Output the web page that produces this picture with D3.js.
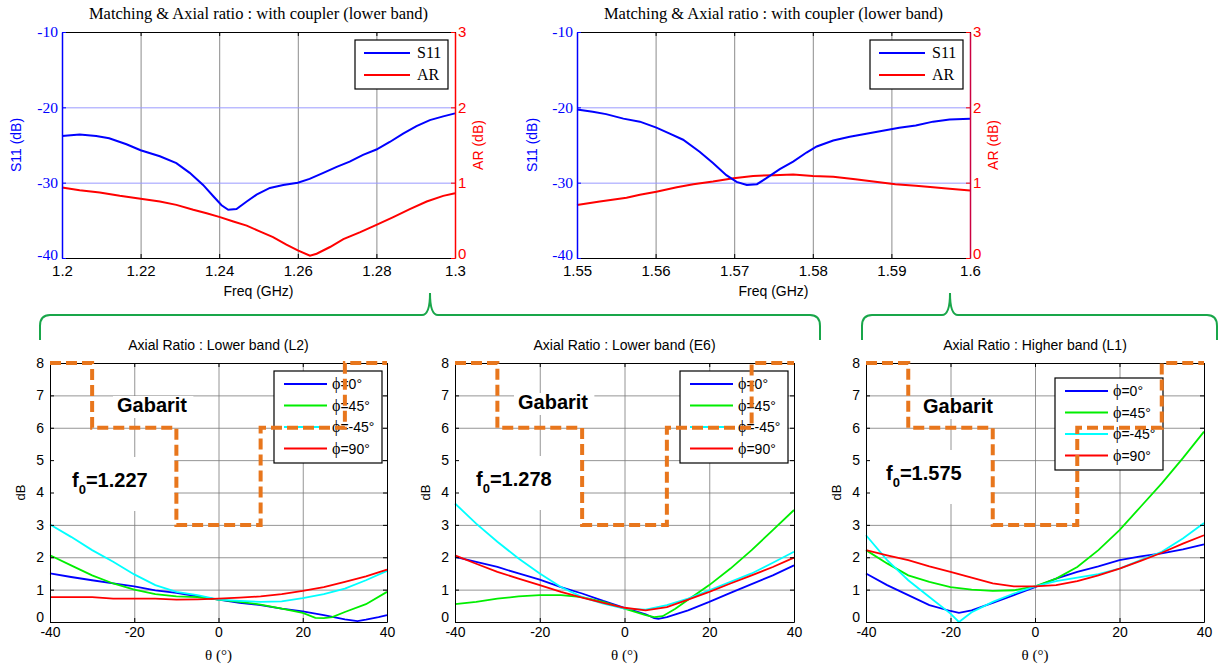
<!DOCTYPE html>
<html><head><meta charset="utf-8">
<script src="https://cdn.jsdelivr.net/npm/d3@7"></script>
<style>body{margin:0;background:#fff}svg{display:block}</style>
</head><body>
<svg id="c" width="1219" height="666"></svg>
<script>
// ---------------- DATA ----------------
const s11Ticks = [-10, -20, -30, -40];
const arTicks = [0, 1, 2, 3];
const lowFreqTicks = [1.2, 1.22, 1.24, 1.26, 1.28, 1.3];
const highFreqTicks = [1.55, 1.56, 1.57, 1.58, 1.59, 1.6];
const topTitle = "Matching & Axial ratio : with coupler (lower band)";
const seriesTopNames = ["S11", "AR"];

const lowS11Freq = [1.2,1.2045,1.2087,1.212,1.2164,1.22,1.2249,1.2291,1.2325,1.2359,1.2385,1.2406,1.2423,1.2444,1.247,1.2495,1.2529,1.2563,1.26,1.263,1.2665,1.2699,1.2732,1.2766,1.28,1.2834,1.2868,1.2902,1.2936,1.297,1.3];
const lowS11 = [-23.8,-23.6,-23.8,-24.1,-24.9,-25.7,-26.5,-27.4,-28.7,-30.3,-31.8,-33.0,-33.6,-33.5,-32.5,-31.6,-30.7,-30.3,-30.0,-29.5,-28.7,-27.9,-27.2,-26.3,-25.6,-24.6,-23.5,-22.5,-21.7,-21.2,-20.8];
const lowARFreq = [1.2,1.2045,1.2096,1.2147,1.22,1.2249,1.2291,1.2334,1.2368,1.2402,1.2436,1.247,1.2503,1.2537,1.2571,1.26,1.2631,1.2648,1.2682,1.2716,1.2759,1.28,1.2843,1.2885,1.2928,1.297,1.3];
const lowAR = [0.935,0.90,0.87,0.825,0.785,0.75,0.705,0.64,0.595,0.543,0.485,0.43,0.353,0.278,0.176,0.10,0.03,0.057,0.146,0.25,0.344,0.44,0.543,0.648,0.75,0.825,0.86];

const highS11Freq = [1.55,1.552,1.5537,1.5559,1.558,1.5601,1.5618,1.5635,1.5656,1.5673,1.569,1.5703,1.5716,1.5729,1.5741,1.5758,1.5775,1.5792,1.5805,1.5826,1.5847,1.5868,1.5889,1.591,1.5931,1.5953,1.5974,1.6];
const highS11 = [-20.3,-20.6,-20.9,-21.5,-21.9,-22.7,-23.5,-24.3,-25.9,-27.4,-29.0,-29.9,-30.3,-30.2,-29.4,-28.2,-27.2,-26.0,-25.2,-24.4,-23.9,-23.5,-23.1,-22.7,-22.4,-21.9,-21.6,-21.5];
const highARFreq = [1.55,1.5529,1.5563,1.558,1.5601,1.5627,1.5648,1.5673,1.5699,1.5724,1.575,1.5775,1.58,1.5826,1.5854,1.5877,1.5905,1.5931,1.5953,1.5974,1.6];
const highAR = [0.705,0.75,0.80,0.84,0.88,0.94,0.98,1.015,1.06,1.09,1.10,1.107,1.09,1.08,1.045,1.015,0.98,0.96,0.94,0.92,0.895];

const thetaTicks = [-40, -20, 0, 20, 40];
const dbTicks = [0, 1, 2, 3, 4, 5, 6, 7, 8];
const phiLabels = ["=0°", "=45°", "=-45°", "=90°"];
const phiColors = ["#0000ff", "#00ee00", "#00ffff", "#ff0000"];
const bottomTitles = ["Axial Ratio : Lower band (L2)", "Axial Ratio : Lower band (E6)", "Axial Ratio : Higher band (L1)"];
const f0Values = ["1.227", "1.278", "1.575"];
const gabaritTheta = [-40, -30, -30, -10, -10, 10, 10, 30, 30, 40];
const gabaritLevel = [8, 8, 6, 6, 3, 3, 6, 6, 8, 8];

const th5 = [-40,-35,-30,-25,-20,-15,-10,-5,0,5,10,15,20,25,30,35,40];

// L2
const l2Phi0Theta = [-40,-35,-30,-25,-20,-15,-10,-5,0,5,10,15,20,25,30,33,35,38,40];
const l2Phi0 = [1.50,1.39,1.29,1.19,1.10,0.98,0.90,0.79,0.69,0.59,0.52,0.41,0.33,0.21,0.08,0.03,0.07,0.15,0.21];
const l2Phi45Theta = [-40,-35,-30,-25,-20,-15,-10,-5,0,5,10,15,20,23,25,27,30,35,40];
const l2Phi45 = [2.06,1.75,1.44,1.19,1.00,0.86,0.79,0.77,0.69,0.62,0.54,0.41,0.28,0.13,0.12,0.15,0.31,0.55,0.93];
const l2PhiM45 = [3.01,2.63,2.22,1.86,1.47,1.14,0.93,0.83,0.69,0.65,0.62,0.64,0.74,0.86,1.03,1.29,1.58];
const l2Phi90 = [0.77,0.77,0.77,0.72,0.72,0.72,0.69,0.70,0.72,0.75,0.79,0.86,0.96,1.08,1.24,1.41,1.62];

// E6
const e6Phi0Theta = [-40,-35,-30,-25,-20,-15,-10,-5,0,5,7,8,10,15,20,25,30,35,40];
const e6Phi0 = [2.01,1.86,1.70,1.50,1.31,1.08,0.88,0.65,0.44,0.24,0.12,0.10,0.15,0.36,0.62,0.90,1.17,1.44,1.75];
const e6Phi45Theta = [-40,-35,-30,-25,-20,-15,-10,-5,0,5,7,9,12,15,20,25,30,35,40];
const e6Phi45 = [0.55,0.62,0.72,0.79,0.83,0.83,0.77,0.62,0.41,0.21,0.15,0.18,0.41,0.69,1.14,1.65,2.22,2.84,3.46];
const e6PhiM45 = [3.66,3.04,2.48,1.96,1.50,1.08,0.77,0.57,0.41,0.38,0.52,0.72,0.98,1.24,1.50,1.83,2.17];
const e6Phi90 = [2.06,1.80,1.55,1.34,1.14,0.93,0.75,0.59,0.44,0.36,0.46,0.69,0.93,1.19,1.44,1.70,1.99];

// L1
const l1Phi0Theta = [-40,-35,-30,-25,-20,-18,-15,-10,-5,0,5,10,15,20,25,30,35,40];
const l1Phi0 = [1.50,1.14,0.83,0.52,0.34,0.28,0.36,0.59,0.83,1.08,1.34,1.55,1.72,1.91,2.03,2.12,2.24,2.40];
const l1Phi45 = [2.22,1.81,1.44,1.24,1.08,1.00,0.96,0.98,1.10,1.34,1.70,2.22,2.84,3.56,4.28,5.06,5.88];
const l1PhiM45Theta = [-40,-35,-30,-25,-20,-18,-15,-10,-5,0,5,10,15,20,25,30,35,40];
const l1PhiM45 = [2.68,1.91,1.29,0.77,0.26,0.0,0.30,0.62,0.88,1.10,1.26,1.37,1.48,1.65,1.91,2.17,2.58,3.06];
const l1Phi90 = [2.22,2.06,1.91,1.72,1.55,1.37,1.19,1.10,1.10,1.14,1.26,1.44,1.65,1.89,2.14,2.42,2.68];

// ---------------- DRAWING ----------------
const svg = d3.select('#c');
svg.append('rect').attr('width', 1219).attr('height', 666).attr('fill', '#fff');
const SANS = "'Liberation Sans', Arial, Helvetica, sans-serif";
const SERIF = "'Liberation Serif', 'Times New Roman', serif";
const fmt = d => String(+(+d).toFixed(3));

function styleText(sel, family, size, fill) {
  sel.selectAll('text').attr('font-family', family).attr('font-size', size).attr('fill', fill);
}

function drawTop(o) {
  const top = 32, bottom = 258, left = o.left, right = o.right;
  const x = d3.scaleLinear().domain(d3.extent(o.xTicks)).range([left, right]);
  const yL = d3.scaleLinear().domain(d3.extent(s11Ticks)).range([bottom, top]);
  const yR = d3.scaleLinear().domain(d3.extent(arTicks)).range([bottom, top]);
  const g = svg.append('g');

  g.append('g').attr('transform', `translate(0,${bottom})`)
    .call(d3.axisBottom(x).tickValues(o.xTicks.slice(1, -1)).tickSize(-(bottom - top)).tickFormat(''))
    .call(a => { a.select('.domain').remove(); a.selectAll('text').remove(); a.selectAll('line').attr('stroke', '#8c8c8c'); });
  g.append('g').attr('transform', `translate(${left},0)`)
    .call(d3.axisLeft(yL).tickValues(s11Ticks.slice(1, -1)).tickSize(-(right - left)).tickFormat(''))
    .call(a => { a.select('.domain').remove(); a.selectAll('text').remove(); a.selectAll('line').attr('stroke', '#9a9aff'); });

  const lineL = d3.line().x(d => x(d[0])).y(d => yL(d[1]));
  const lineR = d3.line().x(d => x(d[0])).y(d => yR(d[1]));
  g.append('path').datum(d3.zip(o.arX, o.arY)).attr('d', lineR)
    .attr('fill', 'none').attr('stroke', '#ff0000').attr('stroke-width', 2);
  g.append('path').datum(d3.zip(o.s11X, o.s11Y)).attr('d', lineL)
    .attr('fill', 'none').attr('stroke', '#0000ff').attr('stroke-width', 2);

  const bx = g.append('g').attr('transform', `translate(0,${bottom})`)
    .call(d3.axisBottom(x).tickValues(o.xTicks).tickFormat(fmt).tickSizeInner(-4).tickSizeOuter(0).tickPadding(7));
  bx.select('.domain').attr('stroke', '#000');
  styleText(bx, SANS, 15, '#000');
  const tx = g.append('g').attr('transform', `translate(0,${top})`)
    .call(d3.axisTop(x).tickValues(o.xTicks).tickFormat('').tickSizeInner(-4).tickSizeOuter(0));
  tx.select('.domain').attr('stroke', '#000');
  tx.selectAll('text').remove();
  const la = g.append('g').attr('transform', `translate(${left},0)`)
    .call(d3.axisLeft(yL).tickValues(s11Ticks).tickFormat(d => String(d)).tickSizeInner(-4).tickSizeOuter(0).tickPadding(4));
  la.select('.domain').attr('stroke', '#0000ff').attr('stroke-width', 1.5);
  la.selectAll('line').attr('stroke', '#0000ff');
  styleText(la, SERIF, 15.5, '#0000ff');
  la.selectAll('text').filter(d => d === s11Ticks[s11Ticks.length - 1]).attr('dy', '0.1em');
  const ra = g.append('g').attr('transform', `translate(${right},0)`)
    .call(d3.axisRight(yR).tickValues(arTicks).tickFormat(d => String(d)).tickSizeInner(-4).tickSizeOuter(0).tickPadding(3));
  ra.select('.domain').attr('stroke', o.rightColor).attr('stroke-width', 1.5);
  ra.selectAll('line').attr('stroke', '#ff0000');
  styleText(ra, SANS, 15, '#ff0000');
  ra.selectAll('text').filter(d => d === 0).attr('dy', '0.05em');

  g.append('text').attr('x', (left + right) / 2).attr('y', 19).attr('text-anchor', 'middle')
    .attr('font-family', SERIF).attr('font-size', 16.5).attr('fill', '#000').text(topTitle);
  g.append('text').attr('x', (left + right) / 2).attr('y', 296).attr('text-anchor', 'middle')
    .attr('font-family', SANS).attr('font-size', 14).attr('fill', '#000').text('Freq (GHz)');
  g.append('text').attr('transform', `translate(${o.s11LabelX},${(top + bottom) / 2}) rotate(-90)`)
    .attr('text-anchor', 'middle').attr('dy', '0.35em')
    .attr('font-family', SANS).attr('font-size', 14).attr('fill', '#0000ff').text('S11 (dB)');
  g.append('text').attr('transform', `translate(${o.arLabelX},${(top + bottom) / 2}) rotate(-90)`)
    .attr('text-anchor', 'middle').attr('dy', '0.35em')
    .attr('font-family', SANS).attr('font-size', 14).attr('fill', '#ff0000').text('AR (dB)');

  const lx0 = right - 100, lx1 = right - 7, ly0 = 40, ly1 = 89;
  const lg = g.append('g');
  lg.append('rect').attr('x', lx0).attr('y', ly0).attr('width', lx1 - lx0).attr('height', ly1 - ly0)
    .attr('fill', '#fff').attr('stroke', '#000').attr('stroke-width', 1.2);
  const cols = ['#0000ff', '#ff0000'];
  seriesTopNames.forEach((n, i) => {
    const yy = 53 + i * 22;
    lg.append('line').attr('x1', lx0 + 9).attr('x2', lx0 + 55).attr('y1', yy).attr('y2', yy)
      .attr('stroke', cols[i]).attr('stroke-width', 2);
    lg.append('text').attr('x', lx0 + 62).attr('y', yy + 5).attr('font-family', SERIF)
      .attr('font-size', 16).attr('fill', '#000').text(n);
  });
}

drawTop({ left: 62, right: 455, xTicks: lowFreqTicks, s11X: lowS11Freq, s11Y: lowS11,
  arX: lowARFreq, arY: lowAR, rightColor: '#ff0000', s11LabelX: 16, arLabelX: 478 });
drawTop({ left: 577, right: 970, xTicks: highFreqTicks, s11X: highS11Freq, s11Y: highS11,
  arX: highARFreq, arY: highAR, rightColor: '#cc0040', s11LabelX: 532, arLabelX: 993 });

function drawBottom(o) {
  const top = 363, bottom = 622, left = o.left, right = o.right;
  const x = d3.scaleLinear().domain(d3.extent(thetaTicks)).range([left, right]);
  const y = d3.scaleLinear().domain(d3.extent(dbTicks)).range([bottom, top]);
  const g = svg.append('g');

  g.append('g').attr('transform', `translate(0,${bottom})`)
    .call(d3.axisBottom(x).tickValues(thetaTicks.slice(1, -1)).tickSize(-(bottom - top)).tickFormat(''))
    .call(a => { a.select('.domain').remove(); a.selectAll('text').remove(); a.selectAll('line').attr('stroke', '#7a7a7a').attr('stroke-width', 0.8); });
  g.append('g').attr('transform', `translate(${left},0)`)
    .call(d3.axisLeft(y).tickValues(dbTicks.slice(1, -1)).tickSize(-(right - left)).tickFormat(''))
    .call(a => { a.select('.domain').remove(); a.selectAll('text').remove(); a.selectAll('line').attr('stroke', '#7a7a7a').attr('stroke-width', 0.8); });

  const boxLayer = g.append('g');

  const line = d3.line().x(d => x(d[0])).y(d => y(d[1]));
  o.series.forEach((s, i) => {
    g.append('path').datum(d3.zip(s[0], s[1])).attr('d', line)
      .attr('fill', 'none').attr('stroke', phiColors[i]).attr('stroke-width', 1.8);
  });

  const bx = g.append('g').attr('transform', `translate(0,${bottom})`)
    .call(d3.axisBottom(x).tickValues(thetaTicks).tickFormat(d => String(d)).tickSizeInner(-4).tickSizeOuter(0).tickPadding(5));
  styleText(bx, SANS, 14, '#000');
  g.append('g').attr('transform', `translate(0,${top})`)
    .call(d3.axisTop(x).tickValues(thetaTicks).tickFormat('').tickSizeInner(-4).tickSizeOuter(0))
    .call(a => a.selectAll('text').remove());
  const la = g.append('g').attr('transform', `translate(${left},0)`)
    .call(d3.axisLeft(y).tickValues(dbTicks).tickFormat(d => String(d)).tickSizeInner(-4).tickSizeOuter(0).tickPadding(6));
  styleText(la, SANS, 14, '#000');
  la.selectAll('text').filter(d => d === 0).attr('dy', '-0.05em');
  g.append('g').attr('transform', `translate(${right},0)`)
    .call(d3.axisRight(y).tickValues(dbTicks).tickFormat('').tickSizeInner(-4).tickSizeOuter(0))
    .call(a => a.selectAll('text').remove());
  g.selectAll('.domain').attr('stroke', '#000');

  g.append('text').attr('x', (left + right) / 2).attr('y', 350).attr('text-anchor', 'middle')
    .attr('font-family', SANS).attr('font-size', 14).attr('fill', '#000').text(o.title);
  g.append('text').attr('transform', `translate(${left - 30},${(top + bottom) / 2}) rotate(-90)`)
    .attr('text-anchor', 'middle').attr('dy', '0.35em')
    .attr('font-family', SANS).attr('font-size', 13).attr('fill', '#000').text('dB');
  g.append('text').attr('x', (left + right) / 2).attr('y', 660).attr('text-anchor', 'middle')
    .attr('font-family', SERIF).attr('font-size', 15).attr('fill', '#000').text('θ (°)');

  const lx0 = right - o.legR, lx1 = lx0 + 108, ly0 = o.legTop, ly1 = ly0 + 92;
  const lg = g.append('g');
  lg.append('rect').attr('x', lx0).attr('y', ly0).attr('width', lx1 - lx0).attr('height', ly1 - ly0)
    .attr('fill', '#fff').attr('stroke', '#000').attr('stroke-width', 1.2);
  phiLabels.forEach((lab, i) => {
    const yy = ly0 + 13 + i * 21.5;
    lg.append('line').attr('x1', lx0 + 10).attr('x2', lx0 + 53).attr('y1', yy).attr('y2', yy)
      .attr('stroke', phiColors[i]).attr('stroke-width', 2);
    const t = lg.append('text').attr('x', lx0 + 58).attr('y', yy + 5)
      .attr('font-family', SANS).attr('font-size', 14).attr('fill', '#000');
    t.append('tspan').attr('font-family', SERIF).attr('font-size', 16).text('ϕ');
    t.append('tspan').text(lab);
  });

  g.append('path').datum(d3.zip(gabaritTheta, gabaritLevel)).attr('d', line)
    .attr('fill', 'none').attr('stroke', '#e8761c').attr('stroke-width', 4)
    .attr('stroke-dasharray', '11,5');

  const gab = g.append('text').attr('x', o.gabX).attr('y', o.gabY)
    .attr('font-family', SANS).attr('font-weight', 'bold').attr('font-size', 20).attr('fill', '#000').text('Gabarit');
  const f0 = g.append('text').attr('x', o.f0X).attr('y', o.f0Y)
    .attr('font-family', SANS).attr('font-weight', 'bold').attr('font-size', 20).attr('fill', '#000');
  f0.append('tspan').text('f');
  f0.append('tspan').attr('dy', 7).attr('font-size', 13).text('0');
  f0.append('tspan').attr('dy', -7).text('=' + o.f0);
  const gb = gab.node().getBBox();
  boxLayer.append('rect').attr('x', gb.x - 4).attr('y', o.gabY - 16).attr('width', gb.width + 10).attr('height', 22).attr('fill', '#fff');
  boxLayer.append('rect').attr('x', left + 1).attr('y', o.f0Y - 30).attr('width', x(-10) - 3 - left).attr('height', 54).attr('fill', '#fff');
}

drawBottom({ left: 50, right: 387, title: bottomTitles[0], f0: f0Values[0],
  gabX: 117, gabY: 412, f0X: 72, f0Y: 487, legR: 113, legTop: 371,
  series: [[l2Phi0Theta, l2Phi0], [l2Phi45Theta, l2Phi45], [th5, l2PhiM45], [th5, l2Phi90]] });
drawBottom({ left: 455, right: 794, title: bottomTitles[1], f0: f0Values[1],
  gabX: 518, gabY: 409, f0X: 476, f0Y: 486, legR: 114, legTop: 371,
  series: [[e6Phi0Theta, e6Phi0], [e6Phi45Theta, e6Phi45], [th5, e6PhiM45], [th5, e6Phi90]] });
drawBottom({ left: 866, right: 1204, title: bottomTitles[2], f0: f0Values[2],
  gabX: 923, gabY: 413, f0X: 886, f0Y: 480, legR: 149, legTop: 378,
  series: [[l1Phi0Theta, l1Phi0], [th5, l1Phi45], [l1PhiM45Theta, l1PhiM45], [th5, l1Phi90]] });

const braceStarts = [40, 862];
const braceTips = [430, 950];
const braceEnds = [820, 1217];
braceStarts.forEach((s, i) => {
  const t = braceTips[i], e = braceEnds[i], h = 315;
  const p = `M${s},340 L${s},326 Q${s},${h} ${s + 10},${h} L${t - 8},${h} Q${t},${h} ${t},293 Q${t},${h} ${t + 8},${h} L${e - 10},${h} Q${e},${h} ${e},326 L${e},340`;
  svg.append('path').attr('d', p).attr('fill', 'none').attr('stroke', '#19a64a').attr('stroke-width', 2);
});
</script>
</body></html>
